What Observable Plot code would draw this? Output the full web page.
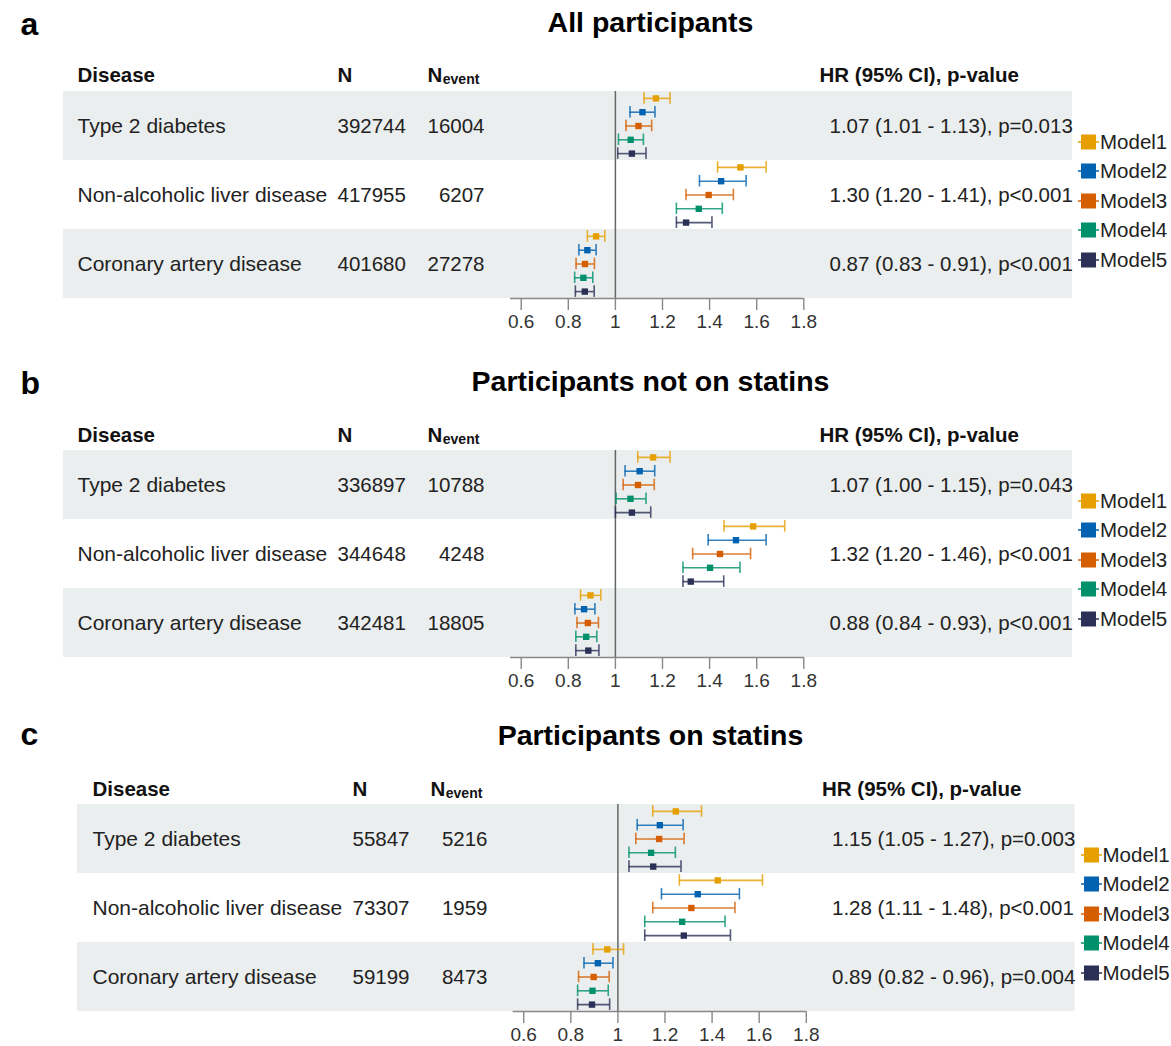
<!DOCTYPE html>
<html><head><meta charset="utf-8">
<script src="https://cdn.jsdelivr.net/npm/d3@7"></script>
<script src="https://cdn.jsdelivr.net/npm/@observablehq/plot@0.6"></script>
<style>
body{margin:0;background:#fff;font-family:"Liberation Sans",Arial,sans-serif;}
#wrap{position:relative;width:1171px;height:1046px;overflow:hidden;background:#fff}
.panel{position:absolute;left:0;width:1171px}
.panel svg{display:block}
.legend{position:absolute;font-size:20.5px;color:#222;font-family:"Liberation Sans",Arial,sans-serif}
.legend .item{height:29.5px;display:flex;align-items:center}
.legend svg{margin-right:1px}
</style></head><body><div id="wrap"></div>
<script>
// ---------- data ----------
const diseases = ["Type 2 diabetes", "Non-alcoholic liver disease", "Coronary artery disease"];
const models = ["Model1", "Model2", "Model3", "Model4", "Model5"];
const modelColors = ["#E69F00", "#0062B0", "#D55E00", "#00906C", "#2A3056"];
const panelLetters = ["a", "b", "c"];
const panelTitles = ["All participants", "Participants not on statins", "Participants on statins"];
const xTicks = [0.6, 0.8, 1, 1.2, 1.4, 1.6, 1.8];
const xTickLabels = ["0.6", "0.8", "1", "1.2", "1.4", "1.6", "1.8"];
const xLimits = [0.555, 1.8];
const headerLabels = ["Disease", "N", "N", "event", "HR (95% CI), p-value"];

// panel a: all participants
const nAll = ["392744", "417955", "401680"];
const eventsAll = ["16004", "6207", "27278"];
const hrTextAll = ["1.07 (1.01 - 1.13), p=0.013", "1.30 (1.20 - 1.41), p<0.001", "0.87 (0.83 - 0.91), p<0.001"];
const hrAll = [[1.172, 1.115, 1.098, 1.065, 1.07], [1.531, 1.449, 1.396, 1.354, 1.30], [0.918, 0.881, 0.871, 0.864, 0.87]];
const loAll = [[1.122, 1.062, 1.045, 1.013, 1.01], [1.434, 1.357, 1.300, 1.259, 1.259], [0.881, 0.845, 0.833, 0.827, 0.83]];
const hiAll = [[1.232, 1.168, 1.154, 1.119, 1.13], [1.640, 1.555, 1.501, 1.454, 1.41], [0.955, 0.918, 0.911, 0.904, 0.91]];

// panel b: not on statins
const nNoStatin = ["336897", "344648", "342481"];
const eventsNoStatin = ["10788", "4248", "18805"];
const hrTextNoStatin = ["1.07 (1.00 - 1.15), p=0.043", "1.32 (1.20 - 1.46), p<0.001", "0.88 (0.84 - 0.93), p<0.001"];
const hrNoStatin = [[1.160, 1.103, 1.096, 1.064, 1.07], [1.585, 1.512, 1.444, 1.402, 1.32], [0.894, 0.867, 0.883, 0.876, 0.885]];
const loNoStatin = [[1.095, 1.041, 1.033, 1.003, 1.00], [1.461, 1.394, 1.328, 1.287, 1.287], [0.852, 0.828, 0.837, 0.832, 0.832]];
const hiNoStatin = [[1.232, 1.167, 1.165, 1.130, 1.15], [1.719, 1.640, 1.574, 1.529, 1.46], [0.938, 0.913, 0.928, 0.921, 0.93]];

// panel c: on statins
const nStatin = ["55847", "73307", "59199"];
const eventsStatin = ["5216", "1959", "8473"];
const hrTextStatin = ["1.15 (1.05 - 1.27), p=0.003", "1.28 (1.11 - 1.48), p<0.001", "0.89 (0.82 - 0.96), p=0.004"];
const hrStatin = [[1.246, 1.178, 1.175, 1.141, 1.15], [1.424, 1.339, 1.312, 1.273, 1.28], [0.955, 0.915, 0.897, 0.892, 0.89]];
const loStatin = [[1.148, 1.082, 1.076, 1.047, 1.047], [1.261, 1.185, 1.148, 1.114, 1.114], [0.894, 0.856, 0.833, 0.829, 0.829]];
const hiStatin = [[1.355, 1.277, 1.281, 1.244, 1.268], [1.614, 1.516, 1.497, 1.455, 1.478], [1.024, 0.979, 0.963, 0.959, 0.965]];

const panelN = [nAll, nNoStatin, nStatin];
const panelEvents = [eventsAll, eventsNoStatin, eventsStatin];
const panelHRText = [hrTextAll, hrTextNoStatin, hrTextStatin];
const panelHR = [hrAll, hrNoStatin, hrStatin];
const panelLo = [loAll, loNoStatin, loStatin];
const panelHi = [hiAll, hiNoStatin, hiStatin];

// ---------- layout ----------
const W = 1171;
const layouts = [
  {top: 0,   height: 359, bandLeft: 63, bandRight: 1072,   shift: 0,   cDis: 77, cN: 337, cEv: 427, cHead: 819,   cVal: 829,   letterBase: 34, titleBase: 31, headBase: 81},
  {top: 359, height: 354, bandLeft: 63, bandRight: 1072,   shift: 0,   cDis: 77, cN: 337, cEv: 427, cHead: 819,   cVal: 829,   letterBase: 34, titleBase: 31, headBase: 82},
  {top: 713, height: 333, bandLeft: 77, bandRight: 1074.5, shift: 2.5, cDis: 92, cN: 352, cEv: 430, cHead: 821.5, cVal: 831.5, letterBase: 31, titleBase: 31, headBase: 82}
];
const marginTop = 91;
const rowBlock = 207;
const titleCenter = 650;
const bandColor = "#EBEEEE";
const font = "'Liberation Sans', Arial, Helvetica, sans-serif";
const fs = 20.5;
const fsDisease = 21;

const wrap = document.getElementById("wrap");

layouts.forEach((L, p) => {
  const rows = [];
  diseases.forEach((d, i) => models.forEach((m, j) => {
    const yc = i + (j + 0.5) / models.length;
    rows.push({disease: d, model: m, hr: panelHR[p][i][j], lo: panelLo[p][i][j], hi: panelHi[p][i][j],
      yc, y1: yc - 0.42 / models.length, y2: yc + 0.42 / models.length});
  }));
  const table = diseases.map((d, i) => ({i, disease: d, n: panelN[p][i], ev: panelEvents[p][i], hrt: panelHRText[p][i]}));
  const frameCenter = (L.bandLeft + L.bandRight) / 2;
  const headDy = L.headBase - marginTop;
  const evWidth = 5 * 0.556 * fs;

  const chart = Plot.plot({
    width: W, height: L.height,
    marginTop, marginBottom: L.height - marginTop - rowBlock,
    marginLeft: L.bandLeft, marginRight: W - L.bandRight,
    x: {domain: [0.6, 1.8], range: [520.7 + L.shift, 803.3 + L.shift]},
    y: {domain: [0, diseases.length], reverse: true, axis: null},
    color: {domain: models, range: modelColors},
    style: {fontFamily: font, background: "white", overflow: "visible"},
    marks: [
      Plot.rect(table.filter(d => d.i % 2 === 0), {y1: d => d.i, y2: d => d.i + 1, fill: bandColor}),
      // text columns
      Plot.text(table, {y: d => d.i + 0.5, text: "disease", frameAnchor: "left", dx: L.cDis - L.bandLeft, textAnchor: "start", fontSize: fsDisease, fill: "#222"}),
      Plot.text(table, {y: d => d.i + 0.5, text: "n", frameAnchor: "left", dx: L.cN - L.bandLeft, textAnchor: "start", fontSize: fs, fill: "#222"}),
      Plot.text(table, {y: d => d.i + 0.5, text: "ev", frameAnchor: "left", dx: L.cEv + evWidth - L.bandLeft, textAnchor: "end", fontSize: fs, fill: "#222"}),
      Plot.text(table, {y: d => d.i + 0.5, text: "hrt", frameAnchor: "left", dx: L.cVal - L.bandLeft, textAnchor: "start", fontSize: fs, fill: "#222"}),
      // headers
      Plot.text([headerLabels[0]], {text: d => d, frameAnchor: "top-left", dx: L.cDis - L.bandLeft, dy: headDy, lineAnchor: "bottom", textAnchor: "start", fontSize: fs, fontWeight: "bold", fill: "#111"}),
      Plot.text([headerLabels[1]], {text: d => d, frameAnchor: "top-left", dx: L.cN - L.bandLeft, dy: headDy, lineAnchor: "bottom", textAnchor: "start", fontSize: fs, fontWeight: "bold", fill: "#111"}),
      Plot.text([headerLabels[2]], {text: d => d, frameAnchor: "top-left", dx: L.cEv - L.bandLeft, dy: headDy, lineAnchor: "bottom", textAnchor: "start", fontSize: fs, fontWeight: "bold", fill: "#111"}),
      Plot.text([headerLabels[3]], {text: d => d, frameAnchor: "top-left", dx: L.cEv + 0.722 * fs + 0.5 - L.bandLeft, dy: headDy + 2, lineAnchor: "bottom", textAnchor: "start", fontSize: 14, fontWeight: "bold", fill: "#111"}),
      Plot.text([headerLabels[4]], {text: d => d, frameAnchor: "top-left", dx: L.cHead - L.bandLeft, dy: headDy, lineAnchor: "bottom", textAnchor: "start", fontSize: fs, fontWeight: "bold", fill: "#111"}),
      // letter & title
      Plot.text([panelLetters[p]], {text: d => d, frameAnchor: "top-left", dx: 20 - L.bandLeft, dy: L.letterBase - marginTop, lineAnchor: "bottom", textAnchor: "start", fontSize: 32, fontWeight: "bold", fill: "#000"}),
      Plot.text([panelTitles[p]], {text: d => d, frameAnchor: "top", dx: titleCenter - frameCenter, dy: L.titleBase - marginTop, lineAnchor: "bottom", textAnchor: "middle", fontSize: 28.5, fontWeight: "bold", fill: "#000"}),
      // null line
      Plot.ruleX([1], {y1: 0, y2: diseases.length, stroke: "#666", strokeWidth: 1.5}),
      // error bars
      Plot.ruleY(rows, {y: "yc", x1: "lo", x2: "hi", stroke: "model", strokeWidth: 1.6, strokeOpacity: 0.8}),
      Plot.ruleX(rows, {x: "lo", y1: "y1", y2: "y2", stroke: "model", strokeWidth: 1.6, strokeOpacity: 0.8}),
      Plot.ruleX(rows, {x: "hi", y1: "y1", y2: "y2", stroke: "model", strokeWidth: 1.6, strokeOpacity: 0.8}),
      Plot.dot(rows, {x: "hr", y: "yc", symbol: "square", r: 3.6, fill: "model", stroke: null}),
      // axis
      Plot.ruleY([diseases.length], {x1: xLimits[0], x2: xLimits[1], stroke: "#888", strokeWidth: 1.4}),
      Plot.axisX({ticks: xTicks, tickFormat: (d, i) => xTickLabels[i], tickSize: 12, tickPadding: 4, stroke: "#888", strokeWidth: 1.4, fill: "#333", fontSize: 19, anchor: "bottom"})
    ]
  });

  const panel = document.createElement("div");
  panel.className = "panel";
  panel.style.top = L.top + "px";
  panel.style.height = L.height + "px";
  panel.appendChild(chart);

  const leg = document.createElement("div");
  leg.className = "legend";
  leg.style.left = (1078 + L.shift) + "px";
  leg.style.top = (127) + "px";
  models.forEach((m, j) => {
    const item = document.createElement("div");
    item.className = "item";
    item.innerHTML = `<svg width="21" height="16"><line x1="0" x2="21" y1="8" y2="8" stroke="${modelColors[j]}" stroke-width="1.5"/><rect x="3" y="0.5" width="15" height="15" fill="${modelColors[j]}"/></svg><span>${m}</span>`;
    leg.appendChild(item);
  });
  panel.appendChild(leg);
  wrap.appendChild(panel);
});
</script></body></html>
